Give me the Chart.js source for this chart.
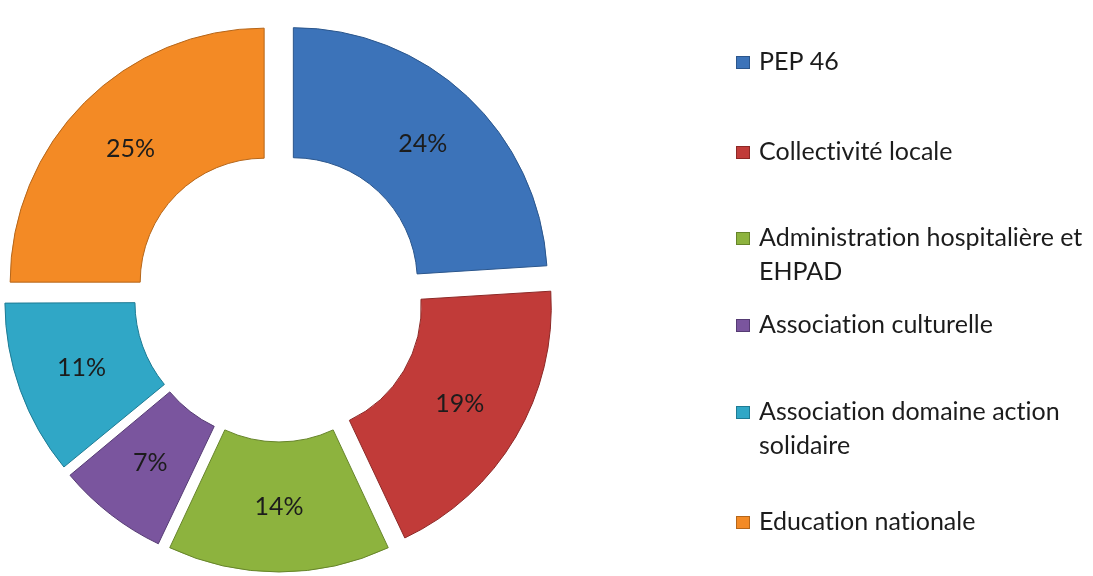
<!DOCTYPE html>
<html>
<head>
<meta charset="utf-8">
<script src="https://cdn.jsdelivr.net/npm/chart.js@4"></script>
<style>
  html, body { margin: 0; padding: 0; background: #fff; }
  #wrap { position: relative; width: 1093px; height: 576px; }
</style>
</head>
<body>
<div id="wrap"><canvas id="donut"></canvas></div>
<script>
// data
const categories = [
  ["PEP 46"],
  ["Collectivité locale"],
  ["Administration hospitalière et", "EHPAD"],
  ["Association culturelle"],
  ["Association domaine action", "solidaire"],
  ["Education nationale"]
];
const shares = [24, 19, 14, 7, 11, 25];
const shareLabels = ["24%", "19%", "14%", "7%", "11%", "25%"];

const sliceColors = ["#3c73b9", "#c13b39", "#8db33e", "#7a559e", "#30a7c6", "#f38a25"];
const edgeColors = ["#2b568c", "#8c2826", "#66842a", "#553b73", "#1e7b94", "#b5661a"];

// legend layout (first line centre of each entry)
const legendRowY = [62, 152, 238, 325, 412, 522];
const legendLineGap = 34;
const fontFamily = "Lato, 'Open Sans', sans-serif";

// slice explosion: chart.js moves an arc by offset/4 and also grows small arcs,
// so scale it back a bit for the thin ones
const explode = 84;
function arcFix(v) {
  const ang = v / 100 * Math.PI * 2;
  return 1 - Math.sin(Math.min(Math.PI, ang));
}
function sliceOffset(ctx) {
  return explode / (1 + arcFix(shares[ctx.dataIndex]));
}

const sliceLabels = {
  id: "sliceLabels",
  afterDatasetsDraw(chart) {
    const ctx = chart.ctx;
    const meta = chart.getDatasetMeta(0);
    ctx.save();
    ctx.font = "25px " + fontFamily;
    ctx.fillStyle = "#1c1c1c";
    ctx.textAlign = "center";
    ctx.textBaseline = "middle";
    meta.data.forEach((arc, i) => {
      const mid = (arc.startAngle + arc.endAngle) / 2;
      const off = (arc.options.offset || 0) / 4;
      const fix = 1 - Math.sin(Math.min(Math.PI, arc.endAngle - arc.startAngle));
      const r = (arc.innerRadius + arc.outerRadius) / 2 + off + off * fix;
      ctx.fillText(shareLabels[i], arc.x + Math.cos(mid) * r, arc.y + Math.sin(mid) * r);
    });
    ctx.restore();
  }
};

const sideLegend = {
  id: "sideLegend",
  afterDraw(chart) {
    const ctx = chart.ctx;
    ctx.save();
    ctx.font = "25px " + fontFamily;
    ctx.textRendering = "optimizeSpeed"; // no "ti" ligature
    ctx.textBaseline = "middle";
    categories.forEach((lines, i) => {
      const y = legendRowY[i];
      ctx.fillStyle = sliceColors[i];
      ctx.fillRect(736, y - 6, 14, 13);
      ctx.strokeStyle = edgeColors[i];
      ctx.lineWidth = 1;
      ctx.strokeRect(736.5, y - 5.5, 13, 12);
      ctx.fillStyle = "#1c1c1c";
      lines.forEach((line, k) => ctx.fillText(line, 759, y + k * legendLineGap));
    });
    ctx.restore();
  }
};

const canvas = document.getElementById("donut");
canvas.width = 1093;
canvas.height = 576;

new Chart(canvas, {
  type: "doughnut",
  data: {
    labels: categories,
    datasets: [{
      data: shares,
      backgroundColor: sliceColors,
      borderColor: edgeColors,
      borderWidth: 1,
      offset: sliceOffset,
      clip: false
    }]
  },
  options: {
    responsive: false,
    animation: false,
    radius: 254,
    cutout: "48.8%",
    layout: { padding: { left: 0, right: 535, top: 18, bottom: 0 } },
    plugins: {
      legend: { display: false },
      tooltip: { enabled: false }
    }
  },
  plugins: [sliceLabels, sideLegend]
});
</script>
</body>
</html>
